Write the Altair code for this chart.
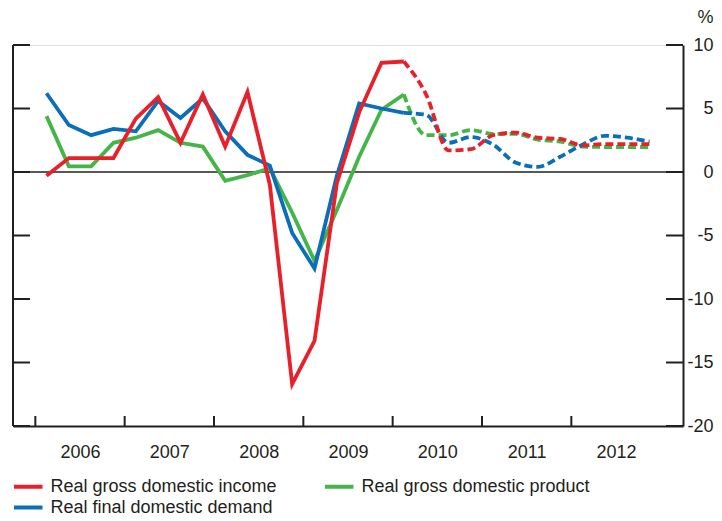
import altair as alt
import pandas as pd

# quarter index: 0 = 2006 Q1 ... 27 = 2012 Q4
quarters = list(range(28))
income = [-0.3, 1.1, 1.1, 1.1, 4.2, 5.9, 2.3, 6.1, 2.0, 6.3, -1.0, -16.7, -13.3, -0.9,
          4.7, 8.6, 8.7, 6.1, 1.7, 1.8, 2.9, 3.1, 2.7, 2.6, 2.1, 2.2, 2.2, 2.2]
product = [4.4, 0.45, 0.45, 2.3, 2.7, 3.3, 2.3, 2.0, -0.7, -0.25, 0.3, -3.2, -7.0, -3.0,
           1.2, 4.9, 6.1, 2.9, 2.9, 3.3, 3.0, 3.0, 2.55, 2.4, 2.0, 1.97, 1.97, 1.97]
demand = [6.2, 3.7, 2.9, 3.4, 3.2, 5.6, 4.25, 5.8, 3.2, 1.35, 0.5, -4.8, -7.6, -0.3,
          5.4, 5.0, 4.65, 4.5, 2.3, 2.75, 2.15, 0.75, 0.4, 1.2, 2.15, 2.85, 2.7, 2.4]
forecast_start = 16

series_names = ["Real gross domestic income", "Real gross domestic product", "Real final domestic demand"]
series_colors = ["#E8202A", "#45B549", "#0A6EB9"]
year_labels = ["2006", "2007", "2008", "2009", "2010", "2011", "2012"]
y_ticks = [-20, -15, -10, -5, 0, 5, 10]

FONT = "Liberation Sans"
TXT = "#231F20"
W, H = 670, 381

rows = []
for name, vals in zip(series_names, [income, product, demand]):
    for q, v in zip(quarters, vals):
        rows.append({"series": name, "q": q, "v": v})
df = pd.DataFrame(rows)

year_mid = [1.5 + 4 * k for k in range(len(year_labels))]
year_bounds = [-0.5 + 4 * k for k in range(len(year_labels))]
df_bounds = pd.DataFrame({"b": year_bounds})
df_yt = pd.DataFrame({"v": y_ticks})
df_zero = pd.DataFrame({"v": [0]})

x_enc = alt.X("q:Q", scale=alt.Scale(domain=[-1.5, 28.5], nice=False, zero=False),
              axis=alt.Axis(values=year_mid, ticks=False, grid=False, title=None,
                            labelExpr="'' + (2006 + round((datum.value - 1.5) / 4))",
                            labelFont=FONT, labelFontSize=18, labelColor=TXT,
                            labelPadding=17, domainColor=TXT, domainWidth=2))
y_enc = alt.Y("v:Q", scale=alt.Scale(domain=[-20, 10], nice=False),
              axis=alt.Axis(orient="right", values=y_ticks, ticks=False, grid=False,
                            labelExpr="'' + datum.value",
                            labelFont=FONT, labelFontSize=18, labelColor=TXT,
                            labelAlign="right", labelPadding=30, labelBaseline="middle",
                            domainColor=TXT, domainWidth=2,
                            title="%", titleAngle=0, titleX=30, titleY=-23,
                            titleAlign="right", titleBaseline="alphabetic",
                            titleFont=FONT, titleFontSize=18, titleFontWeight="normal",
                            titleColor=TXT))
color_enc = alt.Color("series:N",
                      scale=alt.Scale(domain=series_names, range=series_colors),
                      legend=alt.Legend(title=None, orient="none", legendX=-8.5, legendY=432,
                                        direction="horizontal", columns=2,
                                        columnPadding=38, rowPadding=2, padding=0,
                                        symbolType="M0,0H3.8", symbolSize=225,
                                        symbolStrokeWidth=4, labelOffset=27, labelLimit=500,
                                        labelFont=FONT, labelFontSize=18, labelColor=TXT))

base = alt.Chart(df)
layers = []
# zero line
layers.append(alt.Chart(df_zero).mark_rule(color=TXT, strokeWidth=1.5).encode(y=y_enc))
for name in ["Real gross domestic product", "Real final domestic demand", "Real gross domestic income"]:
    solid = base.mark_line(strokeWidth=3.8, strokeCap="butt", strokeJoin="miter").encode(
        x=x_enc, y=y_enc, color=color_enc
    ).transform_filter(
        (alt.datum.series == name) & (alt.datum.q <= forecast_start)
    )
    dashed = base.mark_line(strokeWidth=3.8, strokeDash=[8, 4], interpolate="monotone").encode(
        x=x_enc, y=y_enc, color=color_enc
    ).transform_filter(
        (alt.datum.series == name) & (alt.datum.q >= forecast_start)
    )
    layers.extend([solid, dashed])

# left axis line
layers.append(alt.Chart(df_zero).mark_rule(color=TXT, strokeWidth=2).encode(
    x=alt.value(0), y=alt.value(0), y2=alt.value(H)))
# inward y ticks, left and right
layers.append(alt.Chart(df_yt).mark_rule(color=TXT, strokeWidth=2).encode(
    y=y_enc, x=alt.value(0), x2=alt.value(17)))
layers.append(alt.Chart(df_yt).mark_rule(color=TXT, strokeWidth=2).encode(
    y=y_enc, x=alt.value(W - 17), x2=alt.value(W)))
# year boundary ticks
layers.append(alt.Chart(df_bounds).mark_rule(color=TXT, strokeWidth=2).encode(
    x=alt.X("b:Q", scale=alt.Scale(domain=[-1.5, 28.5], nice=False, zero=False)),
    y=alt.value(H), y2=alt.value(H - 10)))

chart = alt.layer(*layers).properties(
    width=W, height=H,
    autosize=alt.AutoSizeParams(type="none"),
    padding={"left": 5, "top": 37, "right": 31, "bottom": 90},
).configure_view(stroke=None).configure(background="white")

chart.save("out.html", embed_options={"renderer": "svg", "actions": False})
